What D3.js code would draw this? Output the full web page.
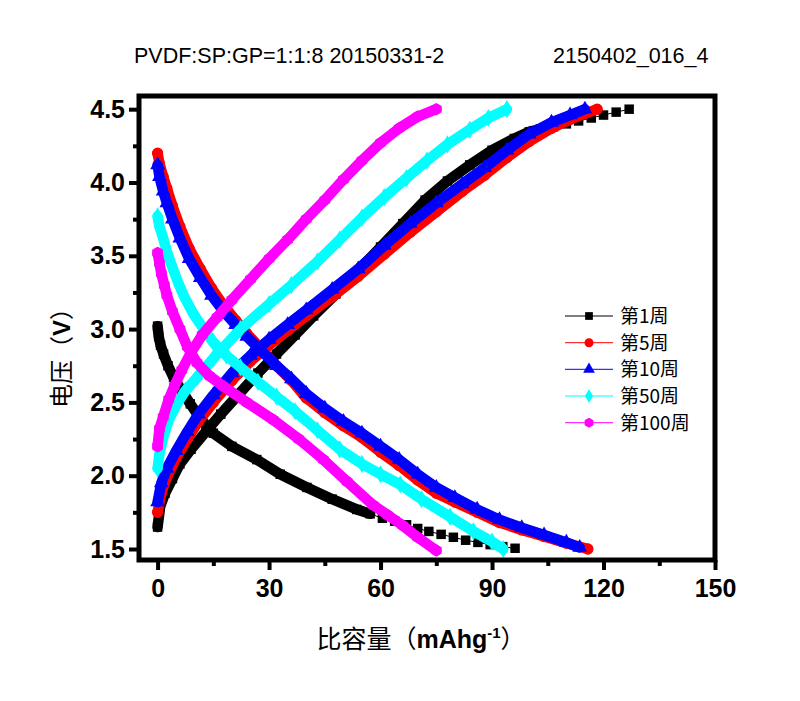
<!DOCTYPE html>
<html><head><meta charset="utf-8">
<script src="https://cdn.jsdelivr.net/npm/d3@7"></script>
<style>body{margin:0;background:#fff}svg{display:block}</style>
</head><body><svg id="c" width="800" height="701"></svg>
<script>
// ---------------- data ----------------
const seriesNames = ["第1周", "第5周", "第10周", "第50周", "第100周"];
const xTicks = [0, 30, 60, 90, 120, 150];
const xMinorTicks = [15, 45, 75, 105, 135];
const yTicks = [1.5, 2.0, 2.5, 3.0, 3.5, 4.0, 4.5];
const yMinorTicks = [1.75, 2.25, 2.75, 3.25, 3.75, 4.25];
const titleLeft = "PVDF:SP:GP=1:1:8 20150331-2";
const titleRight = "2150402_016_4";

// [capacity mAh/g, voltage V]
const c1Charge = [[0,1.65],[0.7,1.79],[2,1.88],[4,1.98],[6,2.08],[9,2.18],[13,2.30],[17,2.42],[22,2.56],[27,2.70],[32,2.83],[37,2.96],[42,3.09],[48,3.24],[54,3.40],[60,3.56],[66,3.72],[72,3.88],[78,4.01],[84,4.12],[90,4.22],[96,4.30],[100,4.345],[103,4.365]];
const c1ChargeTail = [[106.5,4.38],[110,4.40],[113.3,4.42],[116.7,4.44],[120,4.46],[123.4,4.48],[126.9,4.50]];
const c1Discharge = [[0,3.02],[0.3,2.95],[0.8,2.89],[1.6,2.83],[2.8,2.75],[4.3,2.67],[6.5,2.58],[8.8,2.49],[11.5,2.39],[15,2.29],[20,2.20],[26.7,2.11],[33,2.01],[40.2,1.92],[47,1.84],[53.6,1.77],[57.2,1.74]];
const c1DischargeTail = [[60.5,1.71],[63.8,1.69],[67,1.665],[70,1.64],[73,1.62],[76.3,1.60],[79.6,1.58],[82.9,1.56],[86.2,1.545],[89.5,1.53],[92.9,1.516],[96.2,1.505]];

const c5Charge = [[0,1.75],[1,1.88],[2.5,1.99],[5,2.12],[8,2.25],[11,2.37],[15,2.50],[20,2.65],[25,2.78],[30,2.89],[35,2.99],[40,3.09],[47,3.22],[54,3.36],[61,3.51],[68,3.66],[75,3.80],[82,3.94],[88,4.05],[94,4.17],[100,4.28],[106,4.37],[111,4.43],[115,4.47],[118.3,4.50]];
const c5Discharge = [[0,4.20],[0.5,4.13],[1.5,4.04],[2.5,3.96],[4,3.84],[6,3.70],[8.5,3.55],[11.5,3.41],[14.5,3.28],[17.8,3.16],[21,3.06],[24,2.97],[28,2.86],[32,2.75],[36,2.65],[40,2.53],[45,2.43],[50,2.34],[55,2.26],[60,2.16],[65,2.07],[70,1.97],[75,1.88],[80,1.82],[86,1.75],[92,1.68],[98,1.63],[104,1.585],[110,1.54],[115.8,1.50]];

const c10Charge = [[0,1.82],[1,1.95],[2.5,2.05],[5,2.17],[8,2.30],[11,2.42],[15,2.55],[20,2.70],[25,2.82],[30,2.93],[35,3.03],[40,3.13],[47,3.27],[54,3.41],[61,3.57],[68,3.72],[75,3.86],[82,3.99],[88,4.10],[94,4.22],[100,4.33],[106,4.41],[111,4.46],[115,4.50]];
const c10Discharge = [[0,4.12],[0.5,4.04],[1.5,3.94],[2.5,3.86],[4,3.75],[6,3.62],[8.5,3.48],[11.5,3.35],[14.5,3.23],[17.8,3.12],[21,3.03],[24,2.95],[28,2.85],[32,2.75],[36,2.66],[40,2.56],[45,2.46],[50,2.37],[55,2.29],[60,2.20],[65,2.11],[70,2.01],[75,1.92],[80,1.85],[86,1.77],[92,1.70],[98,1.645],[104,1.595],[110,1.545],[113.6,1.51]];

const c50Charge = [[0,2.05],[0.5,2.15],[1.6,2.27],[3,2.38],[5.2,2.49],[7.5,2.58],[10.6,2.67],[15,2.80],[22.3,3.00],[30,3.17],[36,3.30],[43,3.46],[49,3.61],[55,3.76],[61,3.90],[67,4.03],[72.5,4.15],[78,4.26],[84,4.36],[89,4.44],[94,4.50]];
const c50Discharge = [[0,3.77],[0.5,3.70],[1.5,3.62],[2.5,3.53],[4,3.42],[5.5,3.32],[7,3.23],[9.5,3.11],[12.4,3.00],[15,2.91],[18.5,2.82],[22.3,2.74],[27,2.64],[32,2.54],[37,2.44],[43,2.31],[49,2.18],[55,2.08],[60,2.01],[65.3,1.94],[71,1.84],[78.7,1.72],[85,1.62],[90,1.55],[93,1.50]];

const c100Charge = [[0,2.20],[0.5,2.32],[1.5,2.40],[3,2.52],[4.5,2.61],[6.5,2.72],[9,2.84],[12,2.96],[16,3.08],[20,3.20],[25,3.34],[30,3.48],[35,3.61],[40,3.75],[45,3.88],[50,4.02],[55,4.15],[60,4.27],[65,4.37],[70,4.45],[75,4.50]];
const c100Discharge = [[0,3.52],[0.5,3.45],[1,3.38],[1.8,3.30],[2.5,3.23],[4,3.12],[6,3.00],[8,2.88],[10.6,2.77],[14,2.68],[17.7,2.61],[24,2.50],[31.2,2.38],[38,2.25],[44.6,2.11],[51,1.96],[58,1.80],[62,1.73],[66,1.66],[70,1.58],[75,1.49]];

// ---------------- styling ----------------
const colors = ["#000000", "#FF0000", "#0000FF", "#00FFFF", "#FF00FF"];
const symbolHexagon = {
  draw(ctx, size) {
    const r = Math.sqrt(size / (1.5 * Math.sqrt(3)));
    for (let i = 0; i < 6; i++) {
      const a = Math.PI / 6 + i * Math.PI / 3;
      const px = r * Math.cos(a), py = r * Math.sin(a);
      if (i === 0) ctx.moveTo(px, py); else ctx.lineTo(px, py);
    }
    ctx.closePath();
  }
};
const symbols = [d3.symbolSquare, d3.symbolCircle, d3.symbolTriangle, d3.symbolDiamond, symbolHexagon];
const symSizes = [90, 100, 95, 95, 100];
const legSizes = [60, 64, 60, 56, 66];
const bandWidth = 10.5;

const series = [
  { curves: [c1Charge, c1Discharge], tails: [[c1Charge, c1ChargeTail], [c1Discharge, c1DischargeTail]] },
  { curves: [c5Charge, c5Discharge], tails: [] },
  { curves: [c10Charge, c10Discharge], tails: [] },
  { curves: [c50Charge, c50Discharge], tails: [] },
  { curves: [c100Charge, c100Discharge], tails: [] }
];

const svg = d3.select("#c");
const x = d3.scaleLinear().domain([-5, 150]).range([139, 715]);
const y = d3.scaleLinear().domain([1.425, 4.59]).range([560, 96]);
const line = d3.line().x(d => x(d[0])).y(d => y(d[1]));

const tickFont = "'Liberation Sans', Arial, sans-serif";
const cjkFont = "'Noto Sans CJK SC', 'Liberation Sans', sans-serif";

// titles
svg.append("text").attr("x", 134).attr("y", 63).attr("font-family", tickFont)
  .attr("font-size", 21.5).text(titleLeft);
svg.append("text").attr("x", 553).attr("y", 63).attr("font-family", tickFont)
  .attr("font-size", 21.5).text(titleRight);

// data
const plot = svg.append("g");
series.forEach((s, i) => {
  const g = plot.append("g");
  s.curves.forEach(c => {
    g.append("path").attr("d", line(c)).attr("fill", "none")
      .attr("stroke", colors[i]).attr("stroke-width", bandWidth)
      .attr("stroke-linejoin", "round").attr("stroke-linecap", "round");
  });
  s.tails.forEach(([main, tail]) => {
    g.append("path").attr("d", line([main[main.length - 1], ...tail])).attr("fill", "none")
      .attr("stroke", colors[i]).attr("stroke-width", 1);
  });
  const pts = [];
  s.curves.forEach(c => pts.push(...c));
  s.tails.forEach(t => pts.push(...t[1]));
  g.selectAll("path.m").data(pts).join("path").attr("class", "m")
    .attr("transform", d => `translate(${x(d[0])},${y(d[1])})`)
    .attr("d", d3.symbol().type(symbols[i]).size(symSizes[i]))
    .attr("fill", colors[i]);
});

// axes
function styleAxis(g) {
  g.select(".domain").remove();
  g.selectAll(".tick line").attr("stroke", "#000").attr("stroke-width", 4);
  g.selectAll(".tick text").attr("font-family", tickFont).attr("font-weight", "bold")
    .attr("font-size", 25).attr("fill", "#000");
}
svg.append("g").attr("transform", "translate(0,560)")
  .call(d3.axisBottom(x).tickValues(xTicks).tickSize(10).tickPadding(9).tickFormat(d3.format("d")))
  .call(styleAxis);
svg.append("g").attr("transform", "translate(0,560)")
  .call(d3.axisBottom(x).tickValues(xMinorTicks).tickSize(6).tickFormat(""))
  .call(styleAxis);
svg.append("g").attr("transform", "translate(139,0)")
  .call(d3.axisLeft(y).tickValues(yTicks).tickSize(10).tickPadding(4).tickFormat(d3.format(".1f")))
  .call(styleAxis);
svg.append("g").attr("transform", "translate(139,0)")
  .call(d3.axisLeft(y).tickValues(yMinorTicks).tickSize(6).tickFormat(""))
  .call(styleAxis);

// frame
svg.append("rect").attr("x", 139).attr("y", 96).attr("width", 576).attr("height", 464)
  .attr("fill", "none").attr("stroke", "#000").attr("stroke-width", 5);

// axis titles
const xt = svg.append("text").attr("x", 421).attr("y", 648).attr("text-anchor", "middle")
  .attr("font-size", 25).attr("fill", "#000");
xt.append("tspan").attr("font-family", cjkFont).text("比容量（");
xt.append("tspan").attr("font-family", tickFont).attr("font-weight", "bold").text("mAhg");
xt.append("tspan").attr("font-family", tickFont).attr("font-weight", "bold")
  .attr("font-size", 15).attr("dy", -10).text("-1");
xt.append("tspan").attr("font-family", cjkFont).attr("dy", 10).text("）");

const yt = svg.append("text").attr("transform", "translate(70,352) rotate(-90)")
  .attr("text-anchor", "middle").attr("font-size", 24).attr("fill", "#000");
yt.append("tspan").attr("font-family", cjkFont).text("电压（");
yt.append("tspan").attr("font-family", tickFont).attr("font-weight", "bold").text("V");
yt.append("tspan").attr("font-family", cjkFont).text("）");

// legend
const legRows = [316, 342.7, 369.3, 396, 422.7];
const leg = svg.append("g");
seriesNames.forEach((name, i) => {
  const yy = legRows[i];
  leg.append("line").attr("x1", 565).attr("x2", 613).attr("y1", yy).attr("y2", yy)
    .attr("stroke", colors[i]).attr("stroke-width", 1);
  leg.append("path").attr("transform", `translate(589,${yy})`)
    .attr("d", d3.symbol().type(symbols[i]).size(legSizes[i])).attr("fill", colors[i]);
  leg.append("text").attr("x", 620).attr("y", yy + 7).attr("font-family", cjkFont)
    .attr("font-size", 19).attr("fill", "#000").text(name);
});
</script></body></html>
